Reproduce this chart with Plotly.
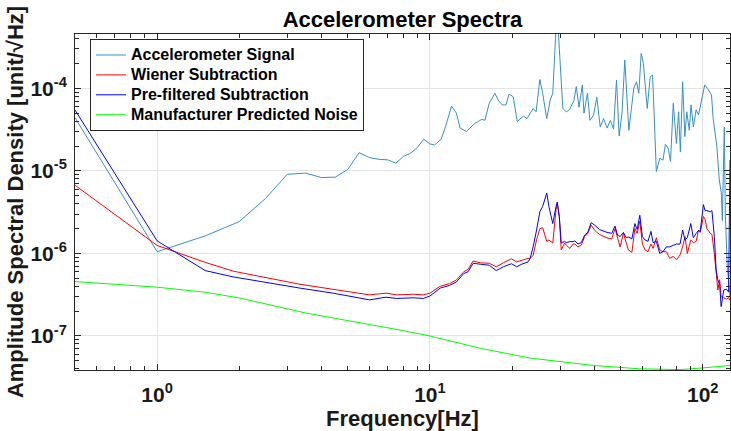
import plotly.graph_objects as go

# ---------------- data ----------------
accel_freq = [0.5, 1.0, 1.5, 2.0, 2.5, 3.0, 3.5, 4.0, 4.5, 5.0, 5.5, 6.0, 6.5, 7.0, 7.5,
              8.0, 8.4, 8.94, 9.5, 10.0, 10.4, 11.0, 11.4, 12.0, 12.5, 12.9, 13.6, 14.1,
              14.6, 15.5, 15.9, 16.5, 17.3, 17.8, 18.4, 19.0, 19.5, 20.2, 20.9, 22.0,
              22.7, 23.9, 24.5, 25.3, 25.9, 26.8, 27.6, 28.2, 29.0, 29.5, 30.1, 30.7,
              31.6, 32.5, 33.7, 34.4, 35.2, 36.2, 36.7, 37.8, 38.6, 39.8, 40.9, 42.1,
              43.3, 44.6, 45.9, 47.1, 48.3, 49.4, 50.6, 51.8, 53.6, 55.9, 57.2, 58.3,
              59.5, 60.6, 62.6, 64.2, 65.5, 67.6, 69.6, 71.5, 73.0, 74.7, 76.2, 78.0,
              80.1, 81.6, 82.8, 84.4, 86.0, 87.4, 89.3, 90.6, 92.4, 94.6, 96.5, 98.8,
              101.7, 104.0, 106.4, 107.7, 109.2, 112.7, 115.0, 117.0, 118.0, 120.0,
              121.0, 123.0, 125.0, 125.9]
accel_asd = [4.4e-5, 1.05e-6, 1.63e-6, 2.43e-6, 4.65e-6, 9.1e-6, 9.4e-6, 8.3e-6, 8.4e-6,
             1.04e-5, 1.66e-5, 1.45e-5, 1.38e-5, 1.36e-5, 1.24e-5, 1.5e-5, 1.6e-5, 1.88e-5,
             2.42e-5, 2.12e-5, 2.06e-5, 2.42e-5, 3.4e-5, 6.1e-5, 5.0e-5, 3.3e-5, 3.0e-5,
             3.4e-5, 3.76e-5, 4.2e-5, 4.1e-5, 6.6e-5, 8.7e-5, 7.2e-5, 6.3e-5, 6.3e-5,
             8.5e-5, 7.9e-5, 3.95e-5, 4.6e-5, 4.3e-5, 5.7e-5, 5.2e-5, 1.28e-4, 8.7e-5,
             4.3e-5, 7.2e-5, 8.7e-5, 5.5e-4, 5.5e-4, 1.52e-4, 5.7e-5, 5.2e-5, 5.5e-5,
             7.1e-5, 1.05e-4, 5.9e-5, 1.1e-4, 5.0e-5, 8.7e-5, 4.1e-5, 4.75e-5, 7.8e-5,
             3.4e-5, 4.3e-5, 3.3e-5, 4.1e-5, 3.2e-5, 1.26e-4, 2.64e-5, 5.0e-5, 2.2e-4,
             3.1e-5, 1.0e-4, 1.2e-4, 8.7e-5, 2.65e-4, 2.0e-4, 5.7e-5, 1.38e-4, 1.45e-4,
             9.8e-6, 1.42e-5, 1.35e-5, 2.1e-5, 1.88e-5, 1.3e-5, 6.6e-5, 2.15e-5, 5.2e-5,
             1.7e-5, 1.2e-4, 2.6e-5, 5.2e-5, 3.1e-5, 6.3e-5, 3.4e-5, 5.5e-5, 4.75e-5,
             7.2e-5, 1.1e-4, 1.0e-4, 8.7e-5, 8.3e-5, 4.3e-5, 1.96e-5, 7.8e-6, 5.4e-6,
             2.5e-6, 3.4e-5, 3.1e-6, 6.9e-7, 4.0e-7, 2.8e-7]

sub_freq = [0.5, 1.0, 1.5, 1.9, 3.34, 4.42, 6.0, 6.9, 7.55, 8.69, 9.46, 10.0, 10.9, 11.8,
            12.5, 13.3, 13.8, 14.4, 15.3, 16.5, 17.5, 18.6, 19.9, 20.8, 21.7, 22.9, 23.3,
            23.9, 24.6, 25.3, 25.9, 26.8, 27.3, 28.2, 29.0, 29.3, 29.8, 30.3, 31.2, 31.6,
            32.6, 33.5, 34.0, 34.9, 35.9, 36.9, 37.9, 39.0, 40.2, 41.8, 44.6, 46.4, 47.7,
            48.7, 49.8, 51.2, 52.4, 53.4, 55.0, 56.4, 57.5, 58.8, 60.1, 61.5, 63.0, 64.6,
            65.8, 67.6, 69.6, 71.5, 73.6, 75.7, 77.9, 80.2, 82.6, 84.4, 86.1, 87.8, 90.4,
            92.4, 94.6, 96.5, 97.9, 100.6, 102.0, 103.6, 106.6, 108.1, 110.3, 112.0, 113.6,
            115.4, 116.8, 119.4, 122.1, 124.4, 125.9]
wiener_asd = [6.7e-6, 1.25e-6, 7.8e-7, 6.1e-7, 4.23e-7, 3.69e-7, 3.15e-7, 3.3e-7, 3.15e-7,
              3.2e-7, 3.15e-7, 3.3e-7, 4.0e-7, 4.3e-7, 4.77e-7, 6.0e-7, 6.4e-7, 8.1e-7,
              7.7e-7, 7.6e-7, 6.9e-7, 7.7e-7, 8.6e-7, 7.9e-7, 8.3e-7, 8.7e-7, 8.7e-7,
              9.5e-7, 1.46e-6, 2.0e-6, 2.05e-6, 1.4e-6, 1.45e-6, 1.34e-6, 3.4e-6, 4.0e-6,
              2.8e-6, 1.1e-6, 1.34e-6, 1.26e-6, 1.15e-6, 1.3e-6, 1.3e-6, 1.2e-6, 1.26e-6,
              1.6e-6, 1.75e-6, 2.2e-6, 1.9e-6, 1.7e-6, 1.54e-6, 1.5e-6, 2.0e-6, 1.5e-6,
              1.2e-6, 1.75e-6, 1.3e-6, 1.1e-6, 1.03e-6, 2.0e-6, 1.75e-6, 2.45e-6, 1.3e-6,
              1.1e-6, 1.05e-6, 1.3e-6, 1.15e-6, 1.55e-6, 1.1e-6, 1.05e-6, 1.05e-6, 8.7e-7,
              9.2e-7, 8.4e-7, 9.6e-7, 1.2e-6, 1.6e-6, 1.0e-6, 1.45e-6, 1.35e-6, 1.4e-6,
              1.92e-6, 1.8e-6, 2.8e-6, 2.6e-6, 2.0e-6, 1.75e-6, 1.7e-6, 1.0e-6, 6.3e-7,
              3.6e-7, 4.8e-7, 3.0e-7, 2.9e-7, 2.8e-7, 2.9e-7, 2.7e-7]
prefilt_asd = [5.46e-5, 1.42e-6, 6.2e-7, 5.2e-7, 3.8e-7, 3.3e-7, 2.74e-7, 2.95e-7, 2.85e-7,
               2.9e-7, 2.85e-7, 3.05e-7, 3.8e-7, 4.1e-7, 4.5e-7, 5.7e-7, 6.0e-7, 7.6e-7,
               7.4e-7, 7.2e-7, 6.2e-7, 6.9e-7, 7.5e-7, 6.9e-7, 7.4e-7, 7.9e-7, 8.7e-7,
               1.2e-6, 1.92e-6, 3.2e-6, 3.7e-6, 5.4e-6, 3.7e-6, 2.3e-6, 3.7e-6, 4.2e-6,
               2.8e-6, 1.34e-6, 1.4e-6, 1.35e-6, 1.39e-6, 1.39e-6, 1.42e-6, 1.3e-6, 1.35e-6,
               1.67e-6, 1.8e-6, 2.36e-6, 2.2e-6, 1.95e-6, 1.8e-6, 1.75e-6, 2.15e-6, 1.67e-6,
               1.6e-6, 1.8e-6, 1.55e-6, 1.58e-6, 1.5e-6, 2.3e-6, 1.95e-6, 2.9e-6, 1.6e-6,
               1.45e-6, 1.4e-6, 1.85e-6, 1.35e-6, 1.4e-6, 1.0e-6, 1.05e-6, 1.2e-6, 1.2e-6,
               1.25e-6, 1.3e-6, 1.3e-6, 1.92e-6, 1.45e-6, 1.55e-6, 2.3e-6, 1.55e-6, 1.75e-6,
               1.9e-6, 1.85e-6, 3.9e-6, 3.3e-6, 3.3e-6, 3.2e-6, 3.3e-6, 1.6e-6, 6.3e-7,
               4.8e-7, 4.2e-7, 2.27e-7, 3.6e-7, 3.7e-7, 3.4e-7, 1.35e-5]

noise_freq = [0.5, 1.0, 1.5, 2.0, 3.5, 5.0, 6.55, 7.77, 10.0, 15.3, 23.3, 39.7, 58.8, 82.6,
              100.0, 126.0]
noise_asd = [4.56e-7, 3.9e-7, 3.39e-7, 2.89e-7, 1.9e-7, 1.55e-7, 1.32e-7, 1.18e-7, 1.0e-7,
             7.1e-8, 5.4e-8, 4.4e-8, 4.0e-8, 3.92e-8, 4.1e-8, 4.4e-8]

series_names = ["Accelerometer Signal", "Wiener Subtraction", "Pre-filtered Subtraction",
                "Manufacturer Predicted Noise"]

x_tick_vals = [1, 10, 100]
x_tick_text = ["10<sup>0</sup>", "10<sup>1</sup>", "10<sup>2</sup>"]
y_tick_vals = [1e-7, 1e-6, 1e-5, 1e-4]
y_tick_text = ["10<sup>-7</sup>", "10<sup>-6</sup>", "10<sup>-5</sup>", "10<sup>-4</sup>"]

x_minor = [m * 10.0 ** e for e in (-1, 0, 1, 2) for m in range(2, 10)]
y_minor = [m * 10.0 ** e for e in (-8, -7, -6, -5, -4) for m in range(2, 10)]

# ---------------- figure ----------------
FONT = "Liberation Sans, Arial, Helvetica, sans-serif"
colors = ["#3590c9", "#ff0000", "#0000ff", "#00ff00"]
xs = [accel_freq, sub_freq, sub_freq, noise_freq]
ys = [accel_asd, wiener_asd, prefilt_asd, noise_asd]

fig = go.Figure()
for name, x, y, c in zip(series_names, xs, ys, colors):
    fig.add_trace(go.Scatter(x=x, y=y, mode="lines",
                             name='<span style="font-size:16px">' + name + '</span>',
                             line=dict(color=c, width=1)))

axis_common = dict(
    showline=True, linecolor="#262626", linewidth=1, mirror="ticks",
    ticks="inside", ticklen=6, tickcolor="#262626",
    showgrid=True, gridcolor="#e3e3e3", gridwidth=1, zeroline=False,
    automargin=False,
    tickfont=dict(family=FONT, size=21, color="#1a1a1a", weight="bold"),
)

fig.update_xaxes(type="log", range=[-0.30103, 2.1], tickmode="array",
                 tickvals=x_tick_vals, ticktext=x_tick_text, ticklabelstandoff=6,
                 minor=dict(tickmode="array", tickvals=x_minor, ticks="inside",
                            ticklen=4, tickcolor="#262626", showgrid=False),
                 title=dict(text="Frequency[Hz]", standoff=0,
                            font=dict(family=FONT, size=22, color="#1a1a1a", weight="bold")),
                 **axis_common)
fig.update_yaxes(type="log", range=[-7.412, -3.342], tickmode="array",
                 tickvals=y_tick_vals, ticktext=y_tick_text, ticklabelstandoff=3,
                 minor=dict(tickmode="array", tickvals=y_minor, ticks="inside",
                            ticklen=4, tickcolor="#262626", showgrid=False),
                 title=dict(text="Amplitude Spectral Density [unit/\u221aHz]", standoff=0,
                            font=dict(family=FONT, size=22, color="#1a1a1a", weight="bold")),
                 **axis_common)

fig.update_layout(
    width=731, height=431,
    margin=dict(l=75, r=1, t=34, b=61, autoexpand=False),
    paper_bgcolor="white", plot_bgcolor="white",
    title=dict(text="Accelerometer Spectra", x=0.5, xref="paper", y=0.955,
               yref="container", yanchor="middle",
               font=dict(family=FONT, size=22, color="black", weight="bold")),
    legend=dict(x=0.0229, y=0.985, xanchor="left", yanchor="top",
                bgcolor="white", bordercolor="#262626", borderwidth=1,
                font=dict(family=FONT, size=13, color="black", weight="bold"),
                itemwidth=30, tracegroupgap=0),
    showlegend=True,
)

fig.write_html("out.html", config={"displayModeBar": False},
               post_script="document.body.style.margin='0';")
